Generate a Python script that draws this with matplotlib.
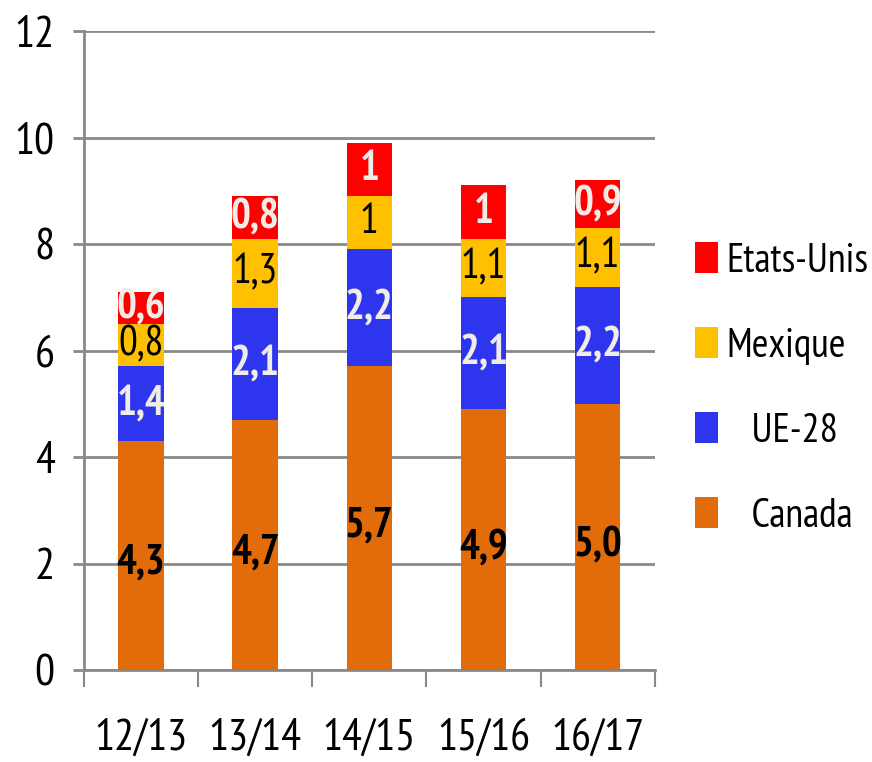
import numpy as np
import matplotlib
matplotlib.use('Agg')
import matplotlib.pyplot as plt
from matplotlib.patches import Patch

plt.rcParams['font.family'] = ['PT Sans Narrow', 'Carlito', 'DejaVu Sans']

## data
years = ['12/13', '13/14', '14/15', '15/16', '16/17']
canada = [4.3, 4.7, 5.7, 4.9, 5.0]
ue28 = [1.4, 2.1, 2.2, 2.1, 2.2]
mexique = [0.8, 1.3, 1.0, 1.1, 1.1]
etats_unis = [0.6, 0.8, 1.0, 1.0, 0.9]
labels_canada = ['4,3', '4,7', '5,7', '4,9', '5,0']
labels_ue28 = ['1,4', '2,1', '2,2', '2,1', '2,2']
labels_mexique = ['0,8', '1,3', '1', '1,1', '1,1']
labels_eu = ['0,6', '0,8', '1', '1', '0,9']

c_can = '#E36C0A'
c_ue = '#2E35EE'
c_mex = '#FFC000'
c_us = '#FF0000'
gridc = '#898989'
offwhite = '#F0EDE8'

fig = plt.figure(figsize=(8.72, 7.62), dpi=100)
ax = fig.add_axes([0.0963, 0.1207, 0.6545, 0.8386])

x = np.arange(len(years))
w = 0.40
b0 = np.zeros(len(years))
series = [(canada, c_can, labels_canada, 'k', 'bold', -0.15),
          (ue28, c_ue, labels_ue28, offwhite, 'bold', 0.0),
          (mexique, c_mex, labels_mexique, 'k', 'normal', 0.0),
          (etats_unis, c_us, labels_eu, offwhite, 'bold', 0.0)]
for vals, col, labs, tc, fw, dy in series:
    vals = np.array(vals)
    ax.bar(x, vals, w, bottom=b0, color=col, edgecolor='none', zorder=3)
    for ii in range(len(x)):
        ax.text(x[ii], b0[ii] + vals[ii] / 2 + dy, labs[ii], ha='center', va='center',
                fontsize=30, color=tc, fontweight=fw, zorder=4)
    b0 = b0 + vals

ax.set_xlim(-0.5, 4.5)
ax.set_ylim(0, 12)
ax.set_yticks(np.arange(0, 13, 2))
ax.yaxis.grid(True, color=gridc, linewidth=2.0, zorder=0)
ax.set_axisbelow(True)
for s in ['top', 'right']:
    ax.spines[s].set_visible(False)
for s in ['left', 'bottom']:
    ax.spines[s].set_color(gridc)
    ax.spines[s].set_linewidth(2.0)
ax.tick_params(axis='y', length=8, width=2.0, color=gridc, labelsize=32, pad=13)

ax.set_xticks(x)
ax.set_xticklabels(years)
ax.tick_params(axis='x', which='major', length=0, labelsize=32, pad=35)
ax.set_xticks(np.arange(-0.5, 5, 1), minor=True)
ax.tick_params(axis='x', which='minor', length=12, width=1.5, color=gridc, direction='out')

handles = [Patch(facecolor=c_us, edgecolor='none'),
           Patch(facecolor=c_mex, edgecolor='none'),
           Patch(facecolor=c_ue, edgecolor='none'),
           Patch(facecolor=c_can, edgecolor='none')]
names = ['Etats-Unis', 'Mexique', '   UE-28', '   Canada']
fig.legend(handles, names, loc='upper left', bbox_to_anchor=(0.797, 0.682),
           frameon=False, fontsize=29, handlelength=0.58, handleheight=0.8,
           handletextpad=0.2, labelspacing=1.18, borderaxespad=0, borderpad=0)

plt.savefig('out.png', dpi=100)
